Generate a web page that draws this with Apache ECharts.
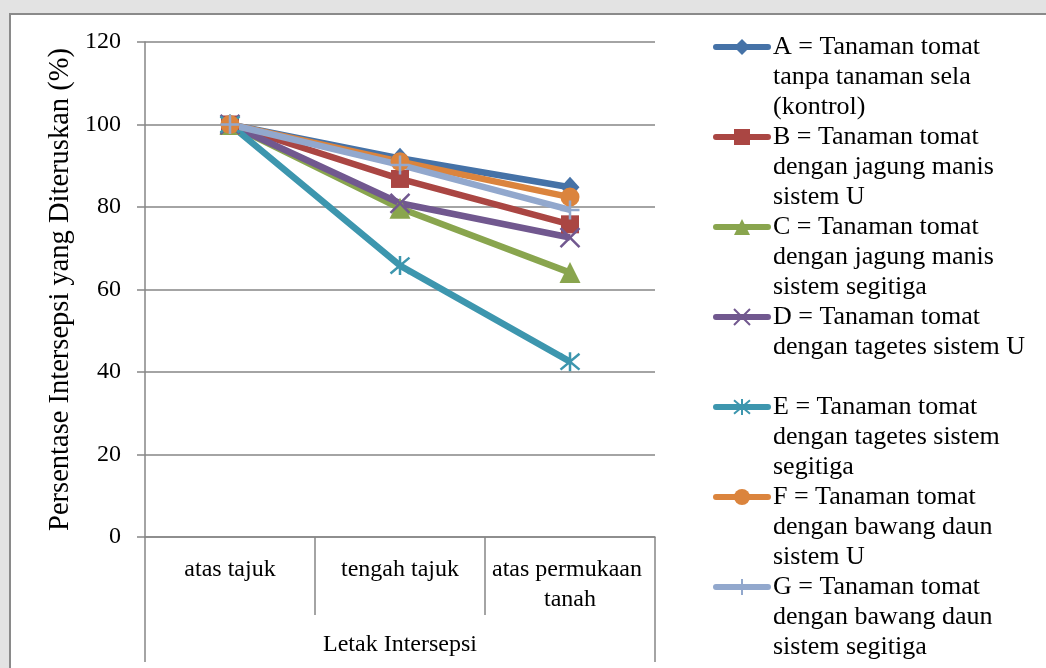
<!DOCTYPE html>
<html>
<head>
<meta charset="utf-8">
<script src="https://cdn.jsdelivr.net/npm/echarts@6/dist/echarts.min.js"></script>
<style>
  html, body { margin: 0; padding: 0; width: 1046px; height: 668px; overflow: hidden; background: #e3e3e3; }
  #panel { position: absolute; left: 9px; top: 13px; width: 1100px; height: 700px; background: #ffffff; border: 2px solid #8a8a8a; box-sizing: border-box; }
  #chart { position: absolute; left: 0; top: 0; width: 1046px; height: 668px; }
</style>
</head>
<body>
<div id="panel"></div>
<div id="chart"></div>
<script>
// ---- data ----
const categories = ['atas tajuk', 'tengah tajuk', 'atas permukaan tanah'];
const outerCategory = ['Letak Intersepsi'];
const yTicks = [0, 20, 40, 60, 80, 100, 120];
const seriesNames = [
  'A = Tanaman tomat tanpa tanaman sela (kontrol)',
  'B = Tanaman tomat dengan jagung manis sistem U',
  'C = Tanaman tomat dengan jagung manis sistem segitiga',
  'D = Tanaman tomat dengan tagetes sistem U',
  'E = Tanaman tomat dengan tagetes sistem segitiga',
  'F = Tanaman tomat dengan bawang daun sistem U',
  'G = Tanaman tomat dengan bawang daun sistem segitiga'
];
const legendLines = [
  ['A = Tanaman tomat', 'tanpa tanaman sela', '(kontrol)'],
  ['B = Tanaman tomat', 'dengan jagung manis', 'sistem U'],
  ['C = Tanaman tomat', 'dengan jagung manis', 'sistem segitiga'],
  ['D = Tanaman tomat', 'dengan tagetes sistem U', ''],
  ['E = Tanaman tomat', 'dengan tagetes sistem', 'segitiga'],
  ['F = Tanaman tomat', 'dengan bawang daun', 'sistem U'],
  ['G = Tanaman tomat', 'dengan bawang daun', 'sistem segitiga']
];
const valuesA = [100, 91.8, 84.8];
const valuesB = [100, 86.8, 75.8];
const valuesC = [100, 79.7, 64.1];
const valuesD = [100, 80.9, 72.6];
const valuesE = [100, 65.8, 42.5];
const valuesF = [100, 91.0, 82.4];
const valuesG = [100, 90.2, 79.3];
const allValues = [valuesA, valuesB, valuesC, valuesD, valuesE, valuesF, valuesG];

// ---- styling ----
const colors = ['#4572A7', '#AA4643', '#89A54E', '#71588F', '#3D96AE', '#DB843D', '#92A8CD'];
const symbols = [
  'diamond', 'rect', 'triangle',
  'path://M0,0L10,10M10,0L0,10',
  'path://M0,0L10,10M10,0L0,10M5,-1L5,11',
  'circle',
  'path://M5,0L5,10M0,5L10,5'
];
const symbolSizes = [[19, 21], 18, 21, 19, 19, 19, 19];
const stroked = [false, false, false, true, true, false, true];
const FONT = '"Liberation Serif", "Times New Roman", serif';
const GRAY = '#868686';

const series = allValues.map((vals, i) => ({
  name: seriesNames[i],
  type: 'line',
  data: vals,
  symbol: symbols[i],
  symbolSize: symbolSizes[i],
  lineStyle: { width: 6.5, color: colors[i] },
  itemStyle: stroked[i]
    ? { color: 'rgba(0,0,0,0)', borderColor: colors[i], borderWidth: 2.5 }
    : { color: colors[i], borderWidth: 0 },
  emphasis: { disabled: true },
  animation: false
}));

const chart = echarts.init(document.getElementById('chart'), null, { renderer: 'canvas' });
chart.setOption({
  animation: false,
  color: colors,
  grid: { left: 145, right: 391, top: 42, bottom: 131, containLabel: false },
  legend: {
    orient: 'vertical',
    left: 713,
    top: -28,
    padding: 0,
    itemGap: -60,
    itemWidth: 52,
    itemHeight: 20,
    selectedMode: false,
    data: seriesNames,
    lineStyle: { width: 6, cap: 'round' },
    formatter: function (name) {
      const i = seriesNames.indexOf(name);
      return '\n\n' + legendLines[i].join('\n');
    },
    textStyle: { fontFamily: FONT, fontSize: 26, lineHeight: 30, color: '#000' }
  },
  xAxis: [
    {
      type: 'category',
      data: categories,
      boundaryGap: true,
      position: 'bottom',
      axisLine: { show: true, lineStyle: { color: GRAY, width: 1.5 } },
      axisTick: { show: true, alignWithLabel: false, interval: 0, length: 78, lineStyle: { color: GRAY, width: 1.5 } },
      axisLabel: {
        interval: 0, margin: 18, fontFamily: FONT, fontSize: 24, lineHeight: 30, color: '#000',
        width: 168, overflow: 'break'
      },
      splitLine: { show: false }
    },
    {
      type: 'category',
      data: outerCategory,
      boundaryGap: true,
      position: 'bottom',
      offset: 0,
      axisLine: { show: false },
      axisTick: { show: true, alignWithLabel: false, interval: 0, length: 125, lineStyle: { color: GRAY, width: 1.5 } },
      axisLabel: { interval: 0, margin: 94, fontFamily: FONT, fontSize: 24, lineHeight: 28, color: '#000' },
      splitLine: { show: false }
    }
  ],
  yAxis: {
    type: 'value',
    min: yTicks[0],
    max: yTicks[yTicks.length - 1],
    interval: yTicks[1] - yTicks[0],
    name: 'Persentase Intersepsi yang Diteruskan (%)',
    nameLocation: 'middle',
    nameGap: 70,
    nameRotate: 90,
    nameTextStyle: { fontFamily: FONT, fontSize: 28.5, color: '#000' },
    axisLine: { show: true, lineStyle: { color: GRAY, width: 1.5 } },
    axisTick: { show: true, length: 8, lineStyle: { color: GRAY, width: 1.5 } },
    axisLabel: { margin: 24, fontFamily: FONT, fontSize: 24, color: '#000' },
    splitLine: { show: true, lineStyle: { color: GRAY, width: 1.5 } }
  },
  series: series
});
</script>
</body>
</html>
